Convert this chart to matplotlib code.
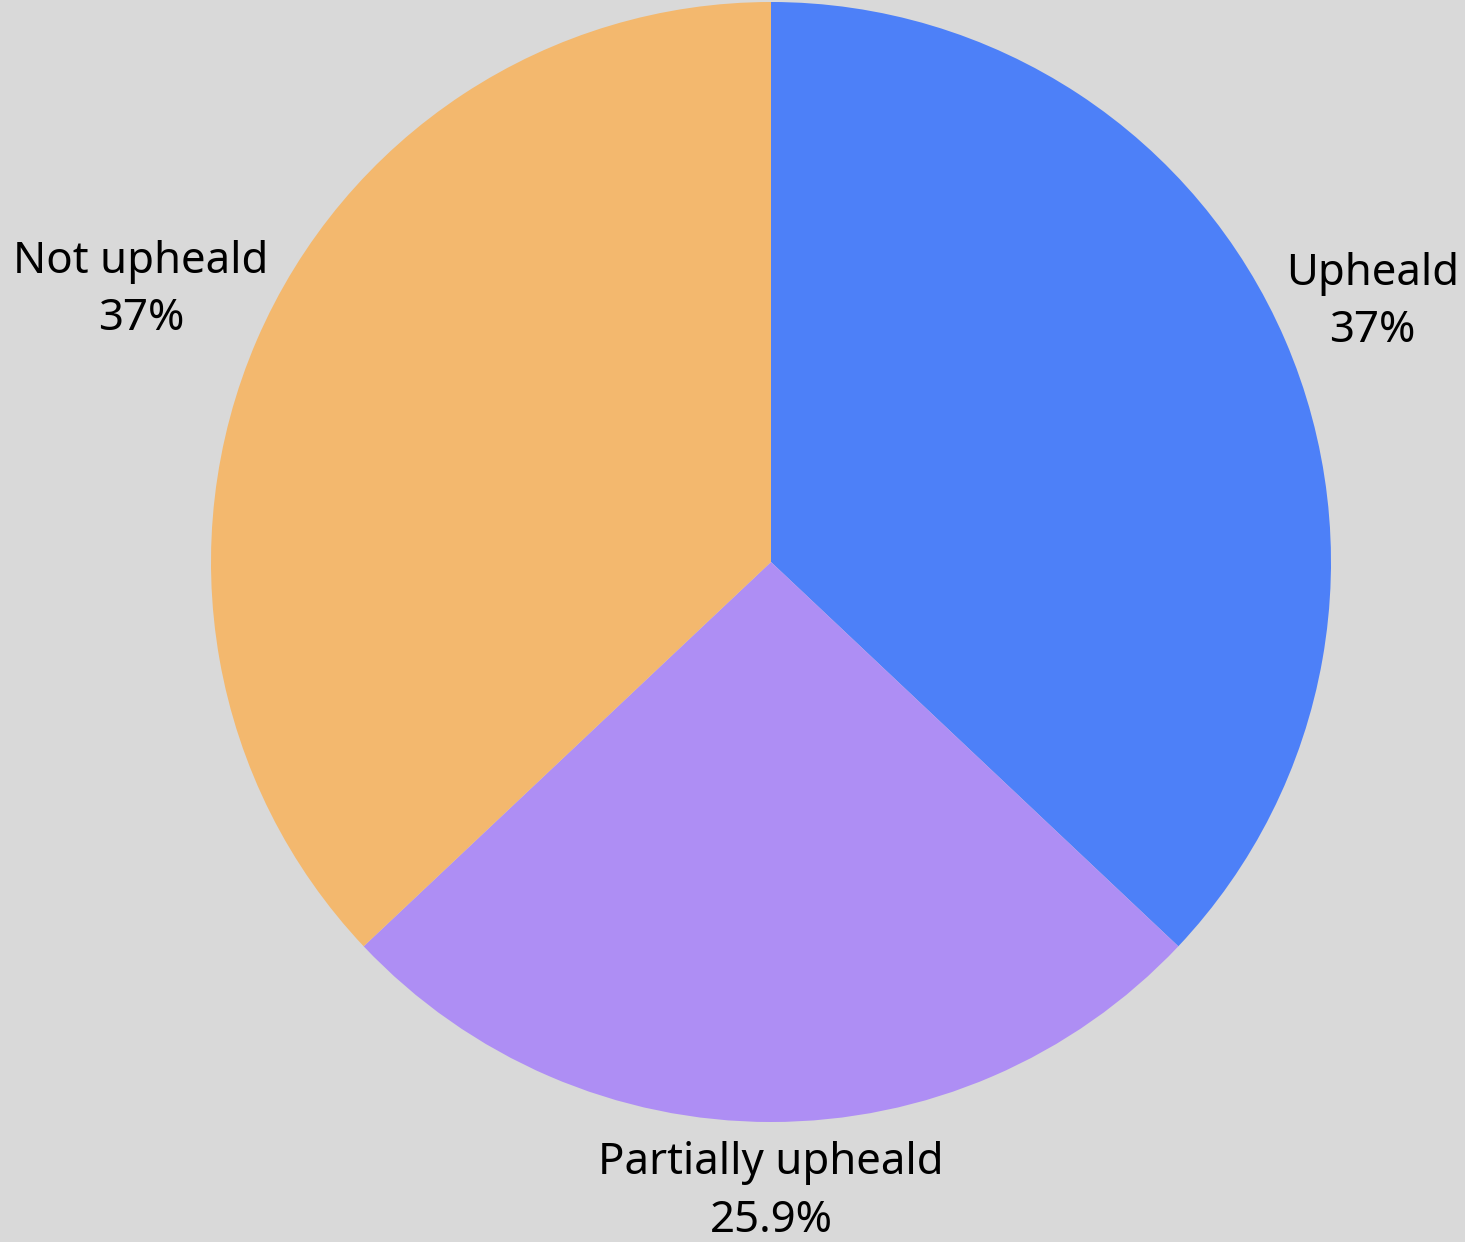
import numpy as np
import matplotlib.pyplot as plt

plt.rcParams['font.family'] = ['Noto Sans', 'DejaVu Sans']

labels = ['Upheald', 'Partially upheald', 'Not upheald']
counts = [10, 7, 10]
colors = ['#4d80f8', '#ae8ef4', '#f3b86e']
pct_text = ['37%', '25.9%', '37%']

W, H = 1465, 1242
cx, cy, R = 771, 562, 560

fig = plt.figure(figsize=(W / 100, H / 100), dpi=100)
fig.patch.set_facecolor('#d9d9d9')
ax = fig.add_axes([0, 0, 1, 1])
ax.set_facecolor('#d9d9d9')

wedges, _ = ax.pie(counts, colors=colors, startangle=90, counterclock=False,
                   radius=1, wedgeprops=dict(linewidth=0))

# label distance per slice (relative to radius)
dist = [1.17, 1.125, 1.225]
for w, lab, pct, d in zip(wedges, labels, pct_text, dist):
    ang = np.deg2rad((w.theta1 + w.theta2) / 2)
    ax.text(d * np.cos(ang), d * np.sin(ang), lab + '\n' + pct,
            ha='center', va='center', fontsize=31.5, linespacing=1.4)

ax.set_xlim(-cx / R, (W - cx) / R)
ax.set_ylim(-(H - cy) / R, cy / R)
ax.axis('off')

fig.savefig('out.png', dpi=100, facecolor=fig.get_facecolor())
